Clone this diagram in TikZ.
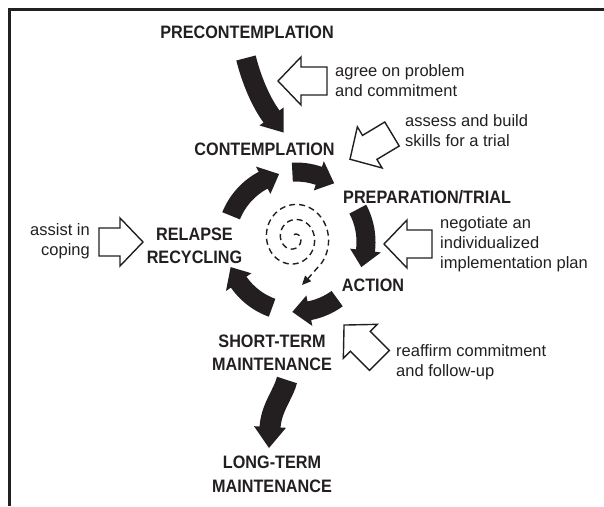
\documentclass[tikz,border=0pt]{standalone}
\usepackage{fontspec}
\setmainfont{Liberation Sans}
\newfontfamily\labelfont[FakeStretch=0.9]{Liberation Sans}
\usetikzlibrary{calc,arrows.meta}
\definecolor{ink}{HTML}{231F20}

% hollow block arrow: tail centre, direction (degrees, counter-clockwise), length
\newcommand\hollowarrow[3]{%
  \draw[hollow, shift={(#1)}, rotate=#2]
    (0,-14) -- ({#3-23},-14) -- ({#3-23},-24) -- (#3,0)
    -- ({#3-23},24) -- ({#3-23},14) -- (0,14) -- cycle;}

% solid arc arrow around the cycle centre C, running clockwise from #1 to #2
\newcommand\cyclearrow[2]{%
  \fill[ink] ($(C)+(#1:79.5)$) arc[start angle=#1, end angle=#2-14, radius=79.5]
    -- ($(C)+({#2-14}:85.5)$) -- ($(C)+(#2:70)$) -- ($(C)+({#2-14}:54.5)$)
    -- ($(C)+({#2-14}:60.5)$) arc[start angle=#2-14, end angle=#1, radius=60.5]
    -- cycle;}

\begin{document}
\begin{tikzpicture}[x=1pt,y=-1pt,
  stage/.style={font=\labelfont\bfseries\fontsize{18}{23.5}\selectfont,
    align=center, inner sep=0pt, text=ink},
  note/.style={font=\fontsize{16.5}{20}\selectfont, align=left,
    inner sep=0pt, anchor=west, text=ink},
  shaft/.style={draw=ink, line width=20pt},
  hollow/.style={draw=ink, fill=white, line width=1.4pt, line join=miter},
  spiral/.style={draw=ink, line width=1.4pt, dash pattern=on 6pt off 4pt},
]
\useasboundingbox (0,0) rectangle (604,506);

% frame
\draw[ink, line width=2.6pt] (604,9.3) -- (9.3,9.3) -- (9.3,506);

% stages
\node[stage] (pre)  at (247,32.5)   {PRECONTEMPLATION};
\node[stage] (con)  at (264.5,149)  {CONTEMPLATION};
\node[stage, anchor=west] (prep) at (343,197) {PREPARATION/TRIAL};
\node[stage] (rel)  at (194.5,246)  {RELAPSE\\RECYCLING};
\node[stage] (act)  at (373,285.5)  {ACTION};
\node[stage] (stm)  at (272,353)    {SHORT-TERM\\MAINTENANCE};
\node[stage] (ltm)  at (272,474.5)  {LONG-TERM\\MAINTENANCE};

% counsellor tasks
\node[note] (n1) at (335,81)  {agree on problem\\and commitment};
\node[note] (n2) at (405,131) {assess and build\\skills for a trial};
\node[note] (n3) at (440,244) {negotiate an\\individualized\\implementation plan};
\node[note] (n4) at (396,362) {reaffirm commitment\\and follow-up};
\node[note, align=right, anchor=east] (n5) at (90,241.5) {assist in\\coping};

\hollowarrow{327,81}{180}{49}
\hollowarrow{392,134}{211}{49}
\hollowarrow{432,244}{180}{48}
\hollowarrow{379.4,360.4}{135}{50}
\hollowarrow{99,242}{0}{44}

% precontemplation -> contemplation
\coordinate (p0) at (246,58);
\coordinate (p1) at (272.1,117.3);
\draw[shaft] (p0) .. controls (251,78) and (260.1,101.3) .. (p1);
\fill[ink] (283.5,107.5) -- (283.5,132.5) -- (259.5,125.5) -- cycle;

% short-term -> long-term maintenance
\coordinate (s0) at (287,380);
\coordinate (s1) at (270,428);
\draw[shaft, line width=21pt] (s0) .. controls (283,395) and (271,408) .. (s1);
\fill[ink] (286,427.8) -- (269,448) -- (254,426.2) -- cycle;

% the cycle
\coordinate (C) at (296,242);
\cyclearrow{-93}{-57}
\cyclearrow{-28}{21}
\cyclearrow{54}{93}
\cyclearrow{110}{159}
\cyclearrow{202}{256}

% inner spiral
\draw[spiral, -{Triangle[length=9pt,width=8pt]}]
  plot[domain=0:850, samples=220, smooth]
    ({294+(3+14*\x/360)*cos(\x-90)}, {238+1.08*(3+14*\x/360)*sin(\x-90)})
  .. controls (315,271) .. (302,285);
\end{tikzpicture}
\end{document}
